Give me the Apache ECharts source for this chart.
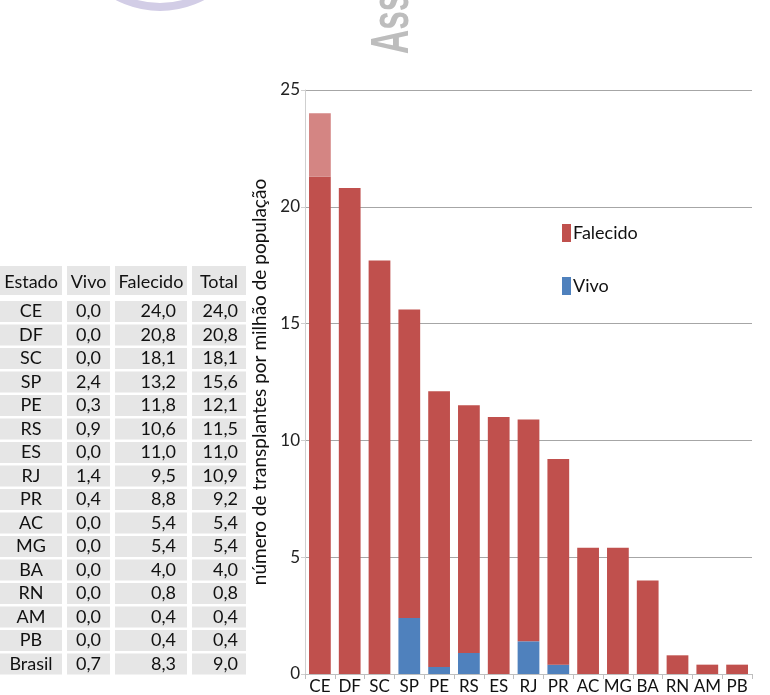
<!DOCTYPE html>
<html><head><meta charset="utf-8">
<script src="https://cdn.jsdelivr.net/npm/echarts@6/dist/echarts.min.js"></script>
<style>html,body{margin:0;padding:0;background:#fff}#c{width:770px;height:695px}</style>
</head><body><div id="c"></div>
<script>
// Chart data
var categories = ['CE','DF','SC','SP','PE','RS','ES','RJ','PR','AC','MG','BA','RN','AM','PB'];
var vivo      = [0, 0, 0, 2.4, 0.3, 0.9, 0, 1.4, 0.4, 0, 0, 0, 0, 0, 0];
var falecido  = [21.3, 20.8, 17.7, 13.2, 11.8, 10.6, 11.0, 9.5, 8.8, 5.4, 5.4, 4.0, 0.8, 0.4, 0.4];
var destaque  = [2.7, null, null, null, null, null, null, null, null, null, null, null, null, null, null];
var yTicks = {min: 0, max: 25, interval: 5};

// Table (left)
var tableHeader   = ['Estado', 'Vivo', 'Falecido', 'Total'];
var tableEstados  = ['CE','DF','SC','SP','PE','RS','ES','RJ','PR','AC','MG','BA','RN','AM','PB','Brasil'];
var tableVivo     = [0.0, 0.0, 0.0, 2.4, 0.3, 0.9, 0.0, 1.4, 0.4, 0.0, 0.0, 0.0, 0.0, 0.0, 0.0, 0.7];
var tableFalecido = [24.0, 20.8, 18.1, 13.2, 11.8, 10.6, 11.0, 9.5, 8.8, 5.4, 5.4, 4.0, 0.8, 0.4, 0.4, 8.3];
var tableTotal    = [24.0, 20.8, 18.1, 15.6, 12.1, 11.5, 11.0, 10.9, 9.2, 5.4, 5.4, 4.0, 0.8, 0.4, 0.4, 9.0];

var FONT = 'Lato';
function fmt(v){ return v.toFixed(1).replace('.', ','); }

var cols = [
  {x0: 0,   x1: 62,  align: 'center', tx: 31},
  {x0: 67,  x1: 110, align: 'center', tx: 88.5},
  {x0: 115, x1: 187, align: 'right',  tx: 176},
  {x0: 192, x1: 246, align: 'right',  tx: 238}
];
var graphics = [];
// header
for (var c = 0; c < 4; c++) {
  graphics.push({type:'rect', shape:{x:cols[c].x0, y:266, width:cols[c].x1-cols[c].x0, height:29}, style:{fill:'#e6e6e6'}, silent:true});
  graphics.push({type:'text', x:(cols[c].x0+cols[c].x1)/2, y:282, style:{text:tableHeader[c], font:'18px '+FONT, fill:'#111', align:'center', verticalAlign:'middle'}, silent:true});
}
for (var r = 0; r < tableEstados.length; r++) {
  var cy = 311.5 + r*23.5;
  var vals = [tableEstados[r], fmt(tableVivo[r]), fmt(tableFalecido[r]), fmt(tableTotal[r])];
  for (var c2 = 0; c2 < 4; c2++) {
    graphics.push({type:'rect', shape:{x:cols[c2].x0, y:cy-10.5, width:cols[c2].x1-cols[c2].x0, height:21}, style:{fill:'#e6e6e6'}, silent:true});
    graphics.push({type:'text', x:cols[c2].tx, y:cy, style:{text:vals[c2], font:'18px '+FONT, fill:'#111', align:cols[c2].align, verticalAlign:'middle'}, silent:true});
  }
}
// cropped watermark pieces at top
graphics.push({type:'circle', shape:{cx:160, cy:-84, r:91}, style:{fill:'none', stroke:'#d2cde6', lineWidth:8}, silent:true});
graphics.push({type:'text', x:420, y:54, rotation:Math.PI/2, scaleX:0.62, style:{text:'Associação', font:'bold 54px "Liberation Sans"', fill:'#bdbdbd', align:'left', verticalAlign:'bottom'}, silent:true});

var chart = echarts.init(document.getElementById('c'), null, {renderer:'canvas'});
chart.setOption({
  animation: false,
  backgroundColor: '#fff',
  textStyle: {fontFamily: FONT},
  grid: {left: 305, right: 18, top: 90, bottom: 19, containLabel: false},
  legend: {
    data: ['Falecido', 'Vivo'], orient: 'vertical', left: 557, top: 219,
    itemWidth: 9, itemHeight: 18, itemGap: 35, icon: 'rect',
    textStyle: {fontSize: 18, color: '#111', fontFamily: FONT, padding: [0,0,0,-3]}
  },
  xAxis: {
    type: 'category', data: categories,
    axisLine: {lineStyle: {color: '#bfbfbf'}},
    axisTick: {show: true, length: 5, lineStyle: {color: '#bfbfbf'}},
    axisLabel: {fontSize: 17, color: '#111', margin: 4, interval: 0, fontFamily: FONT}
  },
  yAxis: {
    type: 'value', min: yTicks.min, max: yTicks.max, interval: yTicks.interval,
    name: 'número de transplantes por milhão de população',
    nameLocation: 'middle', nameGap: 30,
    nameTextStyle: {fontSize: 19, color: '#111', fontFamily: FONT},
    axisLine: {show: true, lineStyle: {color: '#cfcfcf'}},
    axisTick: {show: true, length: 4, lineStyle: {color: '#cfcfcf'}},
    axisLabel: {fontSize: 17, color: '#222', margin: 5, fontFamily: FONT},
    splitLine: {lineStyle: {color: '#a6a6a6', width: 1}}
  },
  series: [
    {name: 'Vivo', type: 'bar', stack: 't', data: vivo, barCategoryGap: '27%', itemStyle: {color: '#4f81bd'}},
    {name: 'Falecido', type: 'bar', stack: 't', data: falecido, itemStyle: {color: '#c0504d'}},
    {name: 'Destaque', type: 'bar', stack: 't', data: destaque, itemStyle: {color: '#d48583'}}
  ],
  graphic: graphics
});
</script></body></html>
